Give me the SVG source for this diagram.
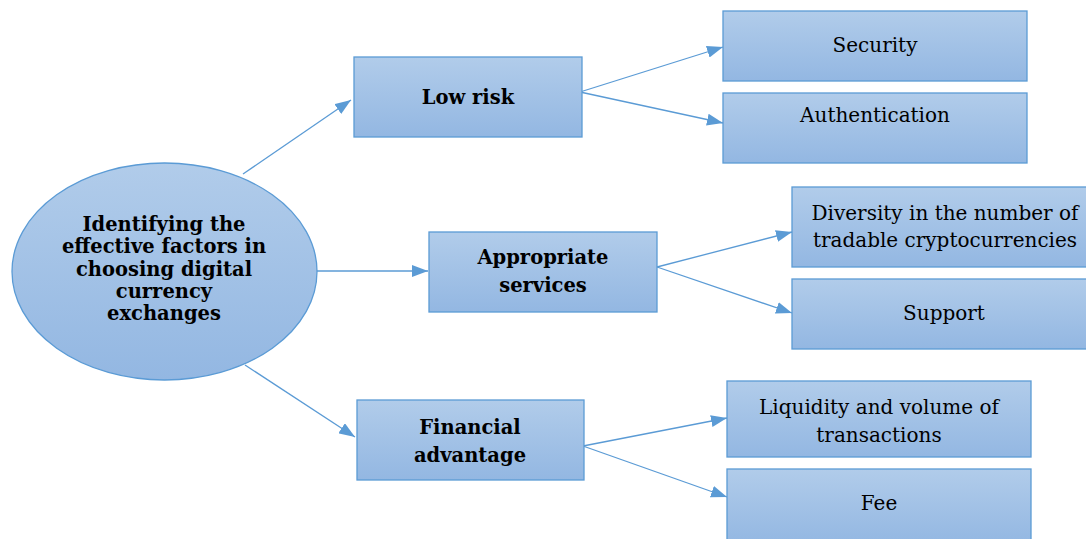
<svg xmlns="http://www.w3.org/2000/svg" width="1086" height="539" viewBox="0 0 1086 539">
<defs>
<linearGradient id="g" x1="0" y1="0" x2="0" y2="1">
<stop offset="0" stop-color="#B1CCEA"/>
<stop offset="1" stop-color="#93B7E2"/>
</linearGradient>
<marker id="ah" viewBox="0 0 16 12" refX="16" refY="6" markerWidth="16" markerHeight="12" markerUnits="userSpaceOnUse" orient="auto">
<path d="M0,0 L16,6 L0,12 Z" fill="#5B9BD5"/>
</marker>
</defs>
<style>
.n{fill:url(#g);stroke:#5B9BD5;stroke-width:1.3}
.t{font-family:"DejaVu Serif","Liberation Serif",serif;font-size:20px;fill:#000;text-anchor:middle}
.b{font-family:"DejaVu Serif","Liberation Serif",serif;font-size:19.5px;font-weight:bold;fill:#000;text-anchor:middle}
.c{stroke:#5B9BD5;stroke-width:1.3;fill:none;marker-end:url(#ah)}
</style>
<rect width="1086" height="539" fill="#fff"/>
<g id="connectors">
<line class="c" x1="243" y1="174" x2="351" y2="100"/>
<line class="c" x1="317" y1="271" x2="428" y2="271"/>
<line class="c" x1="245" y1="365" x2="355" y2="437"/>
<line class="c" x1="580" y1="92" x2="723" y2="47"/>
<line class="c" x1="580" y1="92" x2="723" y2="123"/>
<line class="c" x1="657" y1="267" x2="792" y2="232"/>
<line class="c" x1="657" y1="267" x2="792" y2="313"/>
<line class="c" x1="583" y1="446" x2="727" y2="418"/>
<line class="c" x1="583" y1="446" x2="727" y2="497"/>
</g>
<g id="root">
<ellipse class="n" cx="164.5" cy="271.5" rx="152.5" ry="108.5"/>
<text class="b" x="164" y="231">Identifying the</text>
<text class="b" x="164" y="253">effective factors in</text>
<text class="b" x="164" y="276">choosing digital</text>
<text class="b" x="164" y="298">currency</text>
<text class="b" x="164" y="320">exchanges</text>
</g>
<g id="lowrisk">
<rect class="n" x="354" y="57" width="228" height="80"/>
<text class="b" x="468" y="104">Low risk</text>
</g>
<g id="security">
<rect class="n" x="723" y="11" width="304" height="70"/>
<text class="t" x="875" y="52">Security</text>
</g>
<g id="authentication">
<rect class="n" x="723" y="93" width="304" height="70"/>
<text class="t" x="875" y="122">Authentication</text>
</g>
<g id="services">
<rect class="n" x="429" y="232" width="228" height="80"/>
<text class="b" x="543" y="264">Appropriate</text>
<text class="b" x="543" y="292">services</text>
</g>
<g id="diversity">
<rect class="n" x="792" y="187" width="300" height="80"/>
<text class="t" x="945" y="220">Diversity in the number of</text>
<text class="t" x="945" y="247">tradable cryptocurrencies</text>
</g>
<g id="support">
<rect class="n" x="792" y="279" width="300" height="70"/>
<text class="t" x="944" y="320">Support</text>
</g>
<g id="financial">
<rect class="n" x="357" y="400" width="227" height="80"/>
<text class="b" x="470" y="434">Financial</text>
<text class="b" x="470" y="462">advantage</text>
</g>
<g id="liquidity">
<rect class="n" x="727" y="381" width="304" height="76"/>
<text class="t" x="879" y="414">Liquidity and volume of</text>
<text class="t" x="879" y="442">transactions</text>
</g>
<g id="fee">
<rect class="n" x="727" y="469" width="304" height="75"/>
<text class="t" x="879" y="510">Fee</text>
</g>
</svg>
